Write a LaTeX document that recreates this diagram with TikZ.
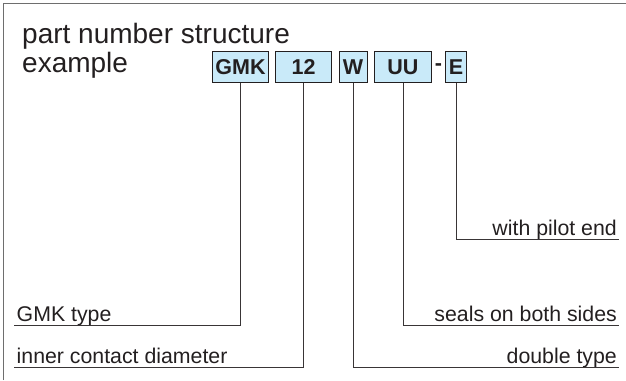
\documentclass[tikz,border=0pt]{standalone}
\usepackage{fontspec}
\setmainfont{Liberation Sans}
\usetikzlibrary{positioning}

\definecolor{partblue}{HTML}{C9EAF9}
\definecolor{inkgray}{HTML}{231F20}
\definecolor{framegray}{HTML}{6E6E6E}

\begin{document}
\begin{tikzpicture}[
        x=1pt, y=-1pt,
        node distance=6.5pt,
        every node/.style={text=inkgray},
        codebox/.style={draw=inkgray, fill=partblue, line width=0.8pt, minimum height=31pt,
            inner sep=0pt, font=\fontsize{21.5}{23}\selectfont\bfseries},
        leftlabel/.style={anchor=south west, inner xsep=2.5pt, inner ysep=0pt, text depth=3.5pt,
            font=\fontsize{21.3}{23}\selectfont},
        rightlabel/.style={anchor=south east, inner xsep=2pt, inner ysep=0pt, text depth=3.5pt,
            font=\fontsize{21.3}{23}\selectfont},
        link/.style={draw=inkgray!90, line width=0.9pt}
        ]
        \useasboundingbox (0,0) rectangle (626,380);
        % Frame
        \draw[framegray, line width=1.2pt] (3.5,380) -- (3.5,3.5) -- (626,3.5);

        % Title
        \node (title) [anchor=north west, inner sep=0pt, align=left, font=\fontsize{28}{29}\selectfont]
            at (22,23) {part number structure\\example};

        % Code boxes
        \node (gmk) [codebox, minimum width=55.6pt] at (240.5,67) {GMK};
        \node (size) [codebox, minimum width=56pt, right=of gmk] {12};
        \node (dbl) [codebox, minimum width=28.4pt, right=of size] {W};
        \node (seal) [codebox, minimum width=56.7pt, right=of dbl] {UU};
        \node (hyphen) [inner sep=0pt, font=\fontsize{21.5}{23}\selectfont\bfseries, right=3pt of seal] {-};
        \node (pilot) [codebox, minimum width=21pt, right=3pt of hyphen] {E};

        % Labels
        \node (gmktype) [leftlabel] at (14,325) {GMK type};
        \node (diameter) [leftlabel] at (14,367.5) {inner contact diameter};
        \node (pilotend) [rightlabel] at (619,239.5) {with pilot end};
        \node (sealboth) [rightlabel] at (619,325.5) {seals on both sides};
        \node (dbltype) [rightlabel] at (619,367.5) {double type};

        % Leaders
        \draw[link] (gmk.south) |- (gmktype.south west);
        \draw[link] (size.south) |- (diameter.south west);
        \draw[link] (pilot.south) |- (pilotend.south east);
        \draw[link] (seal.south) |- (sealboth.south east);
        \draw[link] (dbl.south) |- (dbltype.south east);
    \end{tikzpicture}
\end{document}
